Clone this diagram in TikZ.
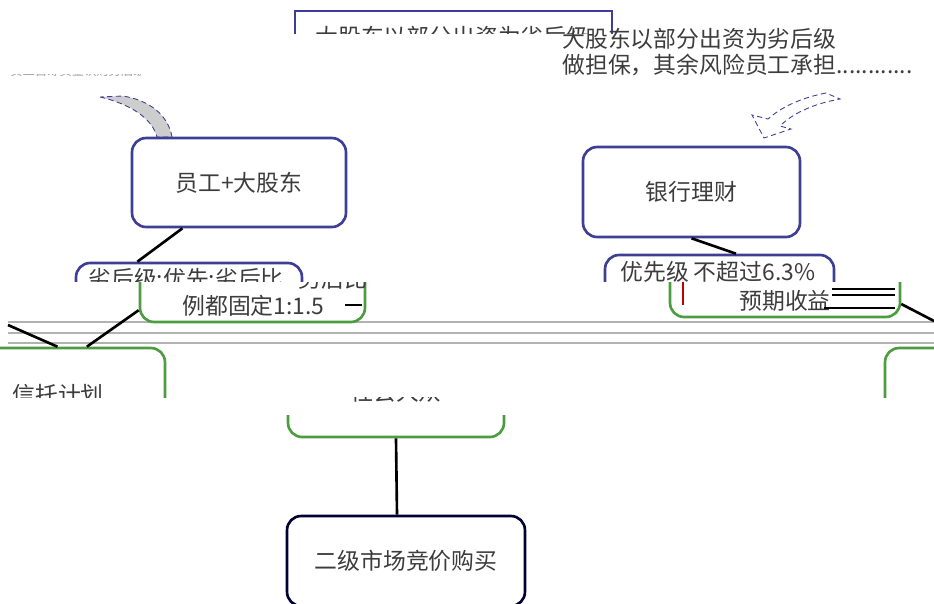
\documentclass[tikz,border=0pt]{standalone}
\usepackage{fontspec}
\newfontfamily\cjk{Noto Sans CJK SC}
\definecolor{boxblue}{RGB}{62,62,150}
\definecolor{boxgreen}{RGB}{76,156,64}
\definecolor{rulegray}{RGB}{178,178,178}
\definecolor{textgray}{RGB}{60,60,60}
\definecolor{bandgray}{RGB}{205,205,205}
\tikzset{
  bluebox/.style={draw=boxblue, line width=1.5pt, rounded corners=8pt, inner sep=0pt},
  greenbox/.style={draw=boxgreen, line width=1.5pt, rounded corners=8pt, inner sep=0pt},
  buybox/.style={draw=black!80!blue, line width=1.5pt, rounded corners=8pt, inner sep=0pt},
  boxtext/.style={font=\cjk\fontsize{13}{14.5}\selectfont, text=textgray, inner sep=0pt},
  link/.style={line width=1.5pt},
  rule/.style={draw=rulegray, line width=1pt},
}

\begin{document}
\begin{tikzpicture}[x=0.02cm, y=-0.02cm]
  \useasboundingbox (0,0) rectangle (934,603);

  % top box, only its upper strip shows
  \begin{scope}
    \clip (0,0) rectangle (934,33);
    \node[bluebox, rounded corners=0pt, minimum width=6.34cm, minimum height=1.6cm] (top) at (453.5,51) {};
    \node[boxtext, anchor=west] (toptext) at (315,37) {大股东以部分出资为劣后级};
  \end{scope}
  \node[boxtext, anchor=north west, align=left] (note) at (562,28) {大股东以部分出资为劣后级\\做担保，其余风险员工承担............};

  % faint strip top left
  \begin{scope}
    \clip (0,74) rectangle (140,79);
    \node[boxtext, anchor=west, text=textgray!50, font=\cjk\fontsize{7}{8}\selectfont] (lefttext) at (10,71) {员工自筹资金认购劣后级};
  \end{scope}

  % curved bands
  \filldraw[fill=bandgray, draw=boxblue, densely dashed, line width=0.5pt] (100,97) .. controls (130,104) and (152,118) .. (157,137) -- (172,137) .. controls (168,114) and (148,100) .. (123,96) -- cycle;
  \filldraw[fill=white, draw=boxblue, densely dashed, line width=0.5pt] (826,93) .. controls (800,98) and (780,108) .. (768,119) -- (752,115) -- (764,138) -- (791,129) -- (780,126) .. controls (792,114) and (812,104) .. (840,99) -- cycle;

  \node[bluebox, boxtext, minimum width=4.28cm, minimum height=1.78cm] (staff) at (239,182.5) {员工+大股东};
  \node[bluebox, boxtext, minimum width=4.34cm, minimum height=1.8cm] (bank) at (691.5,192) {银行理财};

  \foreach \y in {322,333,343}
    \draw[rule] (8,\y) -- (934,\y);

  % 劣后级 box: blue upper strip, green lower strip
  \begin{scope}
    \clip (0,0) rectangle (934,281);
    \node[bluebox, minimum width=4.52cm, minimum height=1.34cm] (lagup) at (189,296.5) {};
    \node[boxtext, anchor=west] at (88,279) {劣后级:优先:劣后比};
    \node[bluebox, minimum width=4.58cm, minimum height=1.3cm] (prioup) at (719.5,287.5) {};
    \node[boxtext, anchor=west] at (620,271.5) {优先级 不超过6.3\%};
  \end{scope}
  \begin{scope}
    \clip (0,282) rectangle (934,340);
    \node[greenbox, minimum width=4.5cm, minimum height=1.44cm] (lagdn) at (252.5,286) {};
    \node[boxtext, anchor=west] at (298,279) {劣后比};
    \node[greenbox, minimum width=4.6cm, minimum height=1.34cm] (priodn) at (785,283.5) {};
  \end{scope}
  \node[boxtext, anchor=west] (lagtext) at (182,306) {例都固定1:1.5};
  \draw[line width=0.8pt] (345,305) -- (362,305);
  \node[boxtext] (priotext) at (785,301) {预期收益};
  \draw[red!75!black, line width=1.2pt] (683,282) -- (683,305);
  \draw[line width=0.8pt] (832,289) -- (895,289) (832,295) -- (895,295) (824,308) -- (895,308);

  % trust boxes, cut below
  \begin{scope}
    \clip (0,340) rectangle (934,397);
    \node[greenbox, minimum width=4.5cm, minimum height=1.84cm] (trust) at (52.5,394) {};
    \node[boxtext, anchor=west] at (12,395) {信托计划};
    \node[greenbox, minimum width=4.5cm, minimum height=1.84cm] (rightbox) at (997.5,394) {};
  \end{scope}
  \begin{scope}
    \clip (0,397) rectangle (934,406);
    \node[boxtext] (midtext) at (396,392) {社会大众};
  \end{scope}
  \begin{scope}
    \clip (0,415) rectangle (934,450);
    \node[greenbox, minimum width=4.32cm, minimum height=1.34cm] (midbox) at (396,403.5) {};
  \end{scope}

  \node[buybox, boxtext, minimum width=4.76cm, minimum height=1.8cm] (buy) at (406,561) {二级市场竞价购买};

  \coordinate (leftin) at (8,325);
  \coordinate (rightin) at (934,321);

  \draw[link] (staff.219) -- (lagup.146);
  \draw[link] (lagdn.192) -- (trust.54);
  \draw[link] (leftin) -- (trust.84);
  \draw[link] (bank.south) -- (prioup.64);
  \draw[link] (priodn.350) -- (rightin);
  \draw[link] (midbox.south) -- (buy.101);
\end{tikzpicture}
\end{document}
